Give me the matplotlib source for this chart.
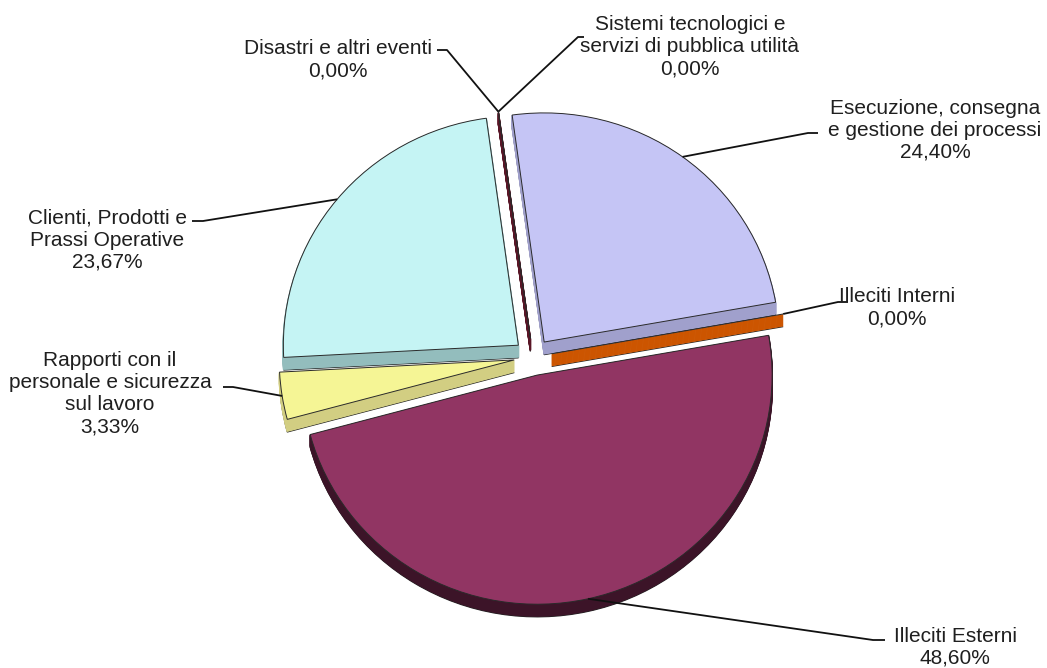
import numpy as np
import matplotlib
matplotlib.use("Agg")
import matplotlib.pyplot as plt
import matplotlib.transforms as mtransforms

# event types, in the order the slices are laid out (clockwise)
categories = [
    "Illeciti Interni",
    "Illeciti Esterni",
    "Rapporti con il\npersonale e sicurezza\nsul lavoro",
    "Clienti, Prodotti e\nPrassi Operative",
    "Disastri e altri eventi",
    "Sistemi tecnologici e\nservizi di pubblica utilità",
    "Esecuzione, consegna\ne gestione dei processi",
]
shares = [0.00, 48.60, 3.33, 23.67, 0.00, 0.00, 24.40]
pct_labels = ["0,00%", "48,60%", "3,33%", "23,67%", "0,00%", "0,00%", "24,40%"]

top_colors = ["#CC5500", "#913563", "#F5F595", "#C5F4F4", "#7A1F35", "#7A1F35", "#C5C5F5"]
side_colors = ["#CC5500", "#3C1428", "#D2CE82", "#93BDBD", "#5A1526", "#5A1526", "#A0A0CC"]

plt.rcParams["font.family"] = ["Liberation Sans", "DejaVu Sans"]

W, H = 1047, 668
fig = plt.figure(figsize=(W / 100, H / 100), dpi=100)
ax = fig.add_axes([0, 0, 1, 1])

cx, cy = 533, H - 357
R = 235
explode = [19] * len(shares)   # pie offsets are in data units (pixels here)
depth = 13
squash = 0.975  # slight tilt of the pie top

tilt = mtransforms.Affine2D().translate(0, -cy).scale(1, squash).translate(0, cy)

# side faces: stack of shifted copies
for k in range(depth, 0, -1):
    wedges, _ = ax.pie(shares, radius=R, center=(cx, cy - k), startangle=10,
                       counterclock=False, explode=explode, colors=side_colors,
                       wedgeprops=dict(linewidth=1.2))
    for w, c in zip(wedges, side_colors):
        w.set_transform(tilt + ax.transData)
        w.set_edgecolor("#222222" if k == depth else c)
        if k == depth:
            w.set_linewidth(0.8)

# top faces
top, _ = ax.pie(shares, radius=R, center=(cx, cy), startangle=10,
                counterclock=False, explode=explode, colors=top_colors,
                wedgeprops=dict(linewidth=0.7, edgecolor="#2a2a2a"))
for w in top:
    w.set_transform(tilt + ax.transData)

# label layout: (text centre x, centre y, elbow x, text-side x, elbow y) in pixels
layout = [
    (897, 308, 838, 848, 302),
    (955, 647, 873, 885, 640),
    (110, 394, 233, 223, 387),
    (107, 240, 203, 192, 221),
    (338, 60, 447, 437, 50),
    (690, 47, 578, 584, 37),
    (935, 130, 808, 818, 133),
]

for w, name, pct, (tx, ty, ex, sx, ey) in zip(top, categories, pct_labels, layout):
    ang = np.deg2rad((w.theta1 + w.theta2) / 2)
    rim = (w.center[0] + w.r * np.cos(ang), w.center[1] + w.r * np.sin(ang))
    px, py = tilt.transform(rim)
    ax.plot([px, ex, sx], [py, H - ey, H - ey], color="#111111", lw=1.3,
            solid_capstyle="butt")
    ax.text(tx, H - ty, f"{name}\n{pct}", ha="center", va="center",
            multialignment="center", fontsize=15, color="#1f1f1f",
            linespacing=1.2)

ax.set_xlim(0, W)
ax.set_ylim(0, H)
ax.set_aspect("equal")
ax.axis("off")

fig.savefig("out.png", dpi=100)
